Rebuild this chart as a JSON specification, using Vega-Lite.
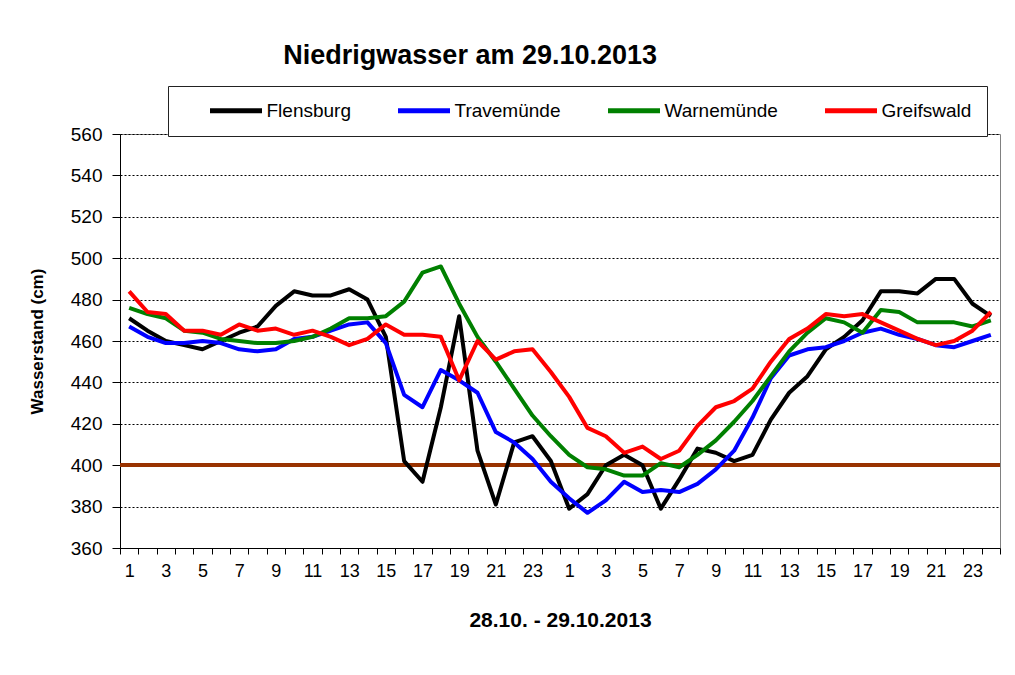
{
  "$schema": "https://vega.github.io/schema/vega-lite/v6.json",
  "autosize": "none",
  "width": 880,
  "height": 414,
  "padding": {"left": 120, "top": 134, "right": 15, "bottom": 127},
  "background": "white",
  "config": {
    "font": "Liberation Sans",
    "view": {"stroke": "#808080", "strokeWidth": 1}
  },
  "title": {
    "text": "Niedrigwasser am 29.10.2013",
    "anchor": "start",
    "dx": 255,
    "offset": 16,
    "fontSize": 27,
    "fontWeight": "bold",
    "font": "Liberation Sans",
    "color": "black"
  },
  "data": {
    "values": [
      {"i": 1, "Flensburg": 471, "Travemünde": 467, "Warnemünde": 476, "Greifswald": 484},
      {"i": 2, "Flensburg": 465, "Travemünde": 462, "Warnemünde": 473, "Greifswald": 474},
      {"i": 3, "Flensburg": 460, "Travemünde": 459, "Warnemünde": 471, "Greifswald": 473},
      {"i": 4, "Flensburg": 458, "Travemünde": 459, "Warnemünde": 465, "Greifswald": 465},
      {"i": 5, "Flensburg": 456, "Travemünde": 460, "Warnemünde": 464, "Greifswald": 465},
      {"i": 6, "Flensburg": 460, "Travemünde": 459, "Warnemünde": 461, "Greifswald": 463},
      {"i": 7, "Flensburg": 464, "Travemünde": 456, "Warnemünde": 460, "Greifswald": 468},
      {"i": 8, "Flensburg": 467, "Travemünde": 455, "Warnemünde": 459, "Greifswald": 465},
      {"i": 9, "Flensburg": 477, "Travemünde": 456, "Warnemünde": 459, "Greifswald": 466},
      {"i": 10, "Flensburg": 484, "Travemünde": 461, "Warnemünde": 460, "Greifswald": 463},
      {"i": 11, "Flensburg": 482, "Travemünde": 462, "Warnemünde": 462, "Greifswald": 465},
      {"i": 12, "Flensburg": 482, "Travemünde": 465, "Warnemünde": 466, "Greifswald": 462},
      {"i": 13, "Flensburg": 485, "Travemünde": 468, "Warnemünde": 471, "Greifswald": 458},
      {"i": 14, "Flensburg": 480, "Travemünde": 469, "Warnemünde": 471, "Greifswald": 461},
      {"i": 15, "Flensburg": 462, "Travemünde": 459, "Warnemünde": 472, "Greifswald": 468},
      {"i": 16, "Flensburg": 402, "Travemünde": 434, "Warnemünde": 479, "Greifswald": 463},
      {"i": 17, "Flensburg": 392, "Travemünde": 428, "Warnemünde": 493, "Greifswald": 463},
      {"i": 18, "Flensburg": 428, "Travemünde": 446, "Warnemünde": 496, "Greifswald": 462},
      {"i": 19, "Flensburg": 472, "Travemünde": 441, "Warnemünde": 478, "Greifswald": 441},
      {"i": 20, "Flensburg": 407, "Travemünde": 435, "Warnemünde": 462, "Greifswald": 460},
      {"i": 21, "Flensburg": 381, "Travemünde": 416, "Warnemünde": 450, "Greifswald": 451},
      {"i": 22, "Flensburg": 411, "Travemünde": 411, "Warnemünde": 437, "Greifswald": 455},
      {"i": 23, "Flensburg": 414, "Travemünde": 403, "Warnemünde": 424, "Greifswald": 456},
      {"i": 24, "Flensburg": 402, "Travemünde": 392, "Warnemünde": 414, "Greifswald": 445},
      {"i": 25, "Flensburg": 379, "Travemünde": 384, "Warnemünde": 405, "Greifswald": 433},
      {"i": 26, "Flensburg": 386, "Travemünde": 377, "Warnemünde": 399, "Greifswald": 418},
      {"i": 27, "Flensburg": 400, "Travemünde": 383, "Warnemünde": 398, "Greifswald": 414},
      {"i": 28, "Flensburg": 405, "Travemünde": 392, "Warnemünde": 395, "Greifswald": 406},
      {"i": 29, "Flensburg": 400, "Travemünde": 387, "Warnemünde": 395, "Greifswald": 409},
      {"i": 30, "Flensburg": 379, "Travemünde": 388, "Warnemünde": 401, "Greifswald": 403},
      {"i": 31, "Flensburg": 393, "Travemünde": 387, "Warnemünde": 399, "Greifswald": 407},
      {"i": 32, "Flensburg": 408, "Travemünde": 391, "Warnemünde": 405, "Greifswald": 419},
      {"i": 33, "Flensburg": 406, "Travemünde": 398, "Warnemünde": 412, "Greifswald": 428},
      {"i": 34, "Flensburg": 402, "Travemünde": 407, "Warnemünde": 421, "Greifswald": 431},
      {"i": 35, "Flensburg": 405, "Travemünde": 423, "Warnemünde": 431, "Greifswald": 437},
      {"i": 36, "Flensburg": 422, "Travemünde": 442, "Warnemünde": 443, "Greifswald": 450},
      {"i": 37, "Flensburg": 435, "Travemünde": 453, "Warnemünde": 455, "Greifswald": 461},
      {"i": 38, "Flensburg": 443, "Travemünde": 456, "Warnemünde": 464, "Greifswald": 466},
      {"i": 39, "Flensburg": 456, "Travemünde": 457, "Warnemünde": 471, "Greifswald": 473},
      {"i": 40, "Flensburg": 462, "Travemünde": 460, "Warnemünde": 469, "Greifswald": 472},
      {"i": 41, "Flensburg": 470, "Travemünde": 464, "Warnemünde": 464, "Greifswald": 473},
      {"i": 42, "Flensburg": 484, "Travemünde": 466, "Warnemünde": 475, "Greifswald": 469},
      {"i": 43, "Flensburg": 484, "Travemünde": 463, "Warnemünde": 474, "Greifswald": 465},
      {"i": 44, "Flensburg": 483, "Travemünde": 461, "Warnemünde": 469, "Greifswald": 461},
      {"i": 45, "Flensburg": 490, "Travemünde": 458, "Warnemünde": 469, "Greifswald": 458},
      {"i": 46, "Flensburg": 490, "Travemünde": 457, "Warnemünde": 469, "Greifswald": 460},
      {"i": 47, "Flensburg": 478, "Travemünde": 460, "Warnemünde": 467, "Greifswald": 465},
      {"i": 48, "Flensburg": 472, "Travemünde": 463, "Warnemünde": 470, "Greifswald": 474}
    ]
  },
  "layer": [
    {
      "mark": {"type": "rule", "color": "#993300", "strokeWidth": 3},
      "encoding": {"y": {"datum": 400}}
    },
    {
      "transform": [
        {"fold": ["Flensburg", "Travemünde", "Warnemünde", "Greifswald"], "as": ["station", "value"]}
      ],
      "mark": {"type": "line", "strokeWidth": 4, "strokeJoin": "round"},
      "encoding": {
        "x": {
          "field": "i",
          "type": "ordinal",
          "scale": {"type": "band", "paddingInner": 0, "paddingOuter": 0},
          "axis": {
            "title": "28.10.  - 29.10.2013",
            "titleFontSize": 21,
            "titleFontWeight": "bold",
            "titleColor": "black",
            "titlePadding": 29,
            "labelAngle": 0,
            "labelFontSize": 18,
            "labelColor": "black",
            "labelPadding": 8,
            "labelExpr": "datum.value % 2 == 1 ? (datum.value > 24 ? datum.value - 24 : datum.value) : ''",
            "tickBand": "extent",
            "tickSize": 6,
            "tickColor": "black",
            "domainColor": "black",
            "grid": false
          }
        },
        "y": {
          "field": "value",
          "type": "quantitative",
          "scale": {"domain": [360, 560], "nice": false, "zero": false},
          "axis": {
            "title": "Wasserstand (cm)",
            "titleFontSize": 17,
            "titleFontWeight": "bold",
            "titleColor": "black",
            "titlePadding": 24,
            "values": [360, 380, 400, 420, 440, 460, 480, 500, 520, 540, 560],
            "labelFontSize": 19,
            "labelColor": "black",
            "labelPadding": 10,
            "tickSize": 8,
            "tickColor": "black",
            "domainColor": "black",
            "grid": true,
            "gridColor": "black",
            "gridDash": [2, 2],
            "gridWidth": 1
          }
        },
        "color": {
          "field": "station",
          "type": "nominal",
          "scale": {
            "domain": ["Flensburg", "Travemünde", "Warnemünde", "Greifswald"],
            "range": ["#000000", "#0000ff", "#008000", "#ff0000"]
          },
          "legend": {
            "orient": "none",
            "legendX": 48,
            "legendY": -48,
            "direction": "horizontal",
            "title": "\u00a0",
            "titleOrient": "left",
            "titlePadding": 27,
            "titleFontSize": 10,
            "symbolType": "M-5.2,0H5.2",
            "symbolSize": 100,
            "symbolStrokeWidth": 5,
            "symbolOffset": 16.5,
            "labelFontSize": 19,
            "labelColor": "black",
            "labelOffset": 21,
            "columnPadding": 37,
            "padding": 15,
            "strokeColor": "#222222",
            "fillColor": "white"
          }
        }
      }
    }
  ]
}
